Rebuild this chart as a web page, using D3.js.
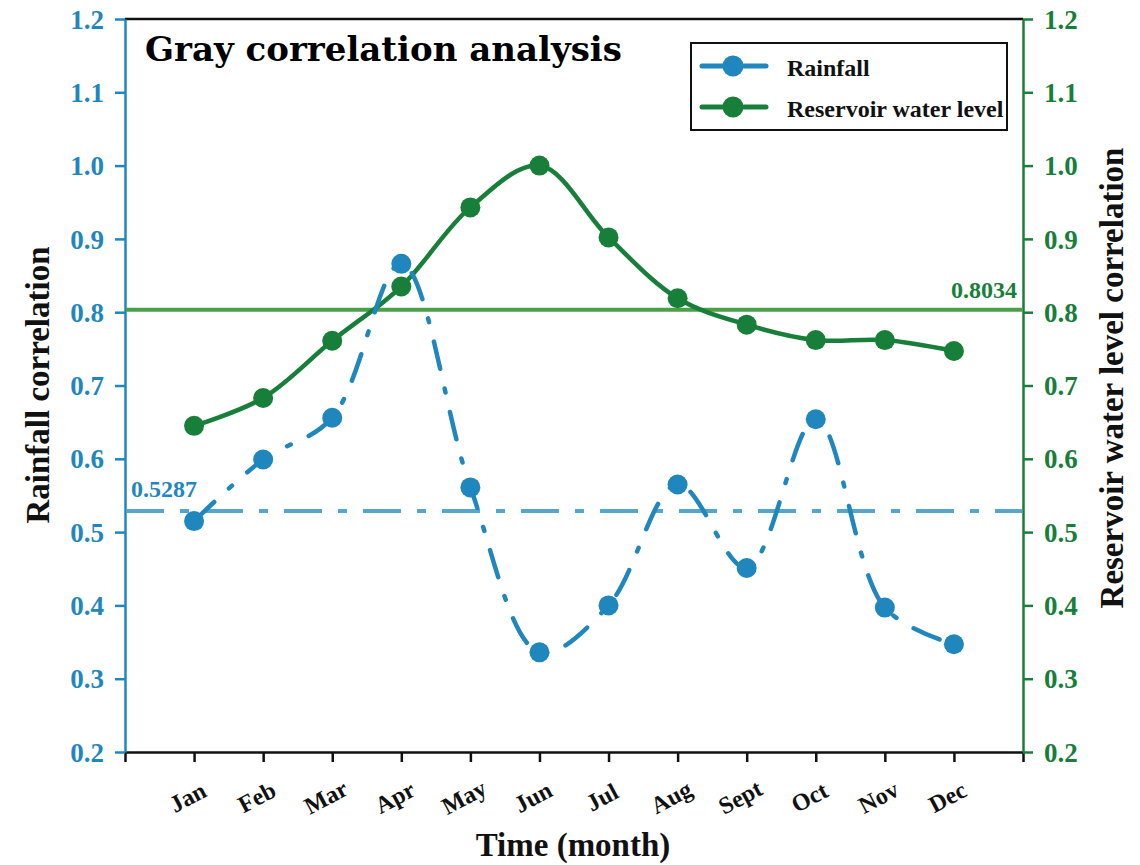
<!DOCTYPE html>
<html>
<head>
<meta charset="utf-8">
<script src="https://cdn.jsdelivr.net/npm/d3@7"></script>
<style>
  html, body { margin: 0; padding: 0; background: #fff; }
  svg { display: block; }
  text { font-family: "Liberation Serif", "Times New Roman", serif; font-weight: bold; }
</style>
</head>
<body>
<svg id="chart" width="1140" height="865"></svg>
<script>
// Month categories and tick labels
const months = ["Jan", "Feb", "Mar", "Apr", "May", "Jun", "Jul", "Aug", "Sept", "Oct", "Nov", "Dec"];
const yTicks = [0.2, 0.3, 0.4, 0.5, 0.6, 0.7, 0.8, 0.9, 1.0, 1.1, 1.2];

// Grey relational degree per month
const rainfall = [0.515, 0.599, 0.656, 0.866, 0.561, 0.336, 0.400, 0.565, 0.451, 0.654, 0.397, 0.347];
const reservoir = [0.645, 0.683, 0.761, 0.835, 0.943, 1.000, 0.902, 0.819, 0.783, 0.762, 0.762, 0.747];

// Mean correlation reference lines
const rainfallMean = 0.5287;
const reservoirMean = 0.8034;

const seriesNames = ["Rainfall", "Reservoir water level"];

const blue = "#1f87bd";
const blueLight = "#55a6cf";
const green = "#187f3a";
const greenLight = "#4b9f49";

const svg = d3.select("#chart");
const plotLeft = 125, plotRight = 1023, plotTop = 19, plotBottom = 752;

const x = d3.scaleLinear().domain([0, 13]).range([plotLeft, plotRight]);
const y = d3.scaleLinear().domain([0.2, 1.2]).range([plotBottom, plotTop]);

// Frame top line
svg.append("line")
  .attr("x1", plotLeft).attr("x2", plotRight).attr("y1", plotTop).attr("y2", plotTop)
  .attr("stroke", "#111").attr("stroke-width", 2.5);

// Bottom axis
const xAxis = svg.append("g")
  .attr("transform", `translate(0,${plotBottom})`)
  .call(d3.axisBottom(x).tickValues(d3.range(0, 14)).tickSize(10).tickSizeOuter(0)
    .tickFormat(d => (d >= 1 && d <= 12) ? months[d - 1] : ""));
xAxis.select(".domain").attr("stroke", "#111").attr("stroke-width", 2.5);
xAxis.selectAll(".tick line").attr("stroke", "#111").attr("stroke-width", 2.5);
xAxis.selectAll(".tick text")
  .attr("fill", "#111")
  .style("font-size", "24px")
  .attr("text-anchor", "middle")
  .attr("x", 0).attr("y", 0).attr("dy", "0.35em")
  .attr("transform", "translate(-7,45) rotate(-28)");

// Left axis
const yLeft = svg.append("g")
  .attr("transform", `translate(${plotLeft},0)`)
  .call(d3.axisLeft(y).tickValues(yTicks).tickSize(10).tickSizeOuter(0).tickFormat(d3.format(".1f")));
yLeft.select(".domain").attr("stroke", blue).attr("stroke-width", 2.5);
yLeft.selectAll(".tick line").attr("stroke", blue).attr("stroke-width", 2.5);
yLeft.selectAll(".tick text").attr("fill", blue).style("font-size", "27px").attr("x", -21).attr("dy", "0.34em");

// Right axis
const yRight = svg.append("g")
  .attr("transform", `translate(${plotRight},0)`)
  .call(d3.axisRight(y).tickValues(yTicks).tickSize(10).tickSizeOuter(0).tickFormat(d3.format(".1f")));
yRight.select(".domain").attr("stroke", green).attr("stroke-width", 2.5);
yRight.selectAll(".tick line").attr("stroke", green).attr("stroke-width", 2.5);
yRight.selectAll(".tick text").attr("fill", green).style("font-size", "27px").attr("x", 21).attr("dy", "0.34em");

// Mean reference lines
svg.append("line")
  .attr("x1", plotLeft + 1).attr("x2", plotRight - 1)
  .attr("y1", y(reservoirMean)).attr("y2", y(reservoirMean))
  .attr("stroke", greenLight).attr("stroke-width", 4);
svg.append("text")
  .attr("x", plotRight - 6).attr("y", y(reservoirMean) - 12)
  .attr("text-anchor", "end").attr("fill", green).style("font-size", "24px")
  .text(reservoirMean.toFixed(4));

svg.append("line")
  .attr("x1", plotLeft + 1).attr("x2", plotRight - 1)
  .attr("y1", y(rainfallMean)).attr("y2", y(rainfallMean))
  .attr("stroke", blueLight).attr("stroke-width", 4)
  .attr("stroke-dasharray", "38 16 9 16");
svg.append("text")
  .attr("x", 131).attr("y", y(rainfallMean) - 14)
  .attr("fill", blue).style("font-size", "24px")
  .text(rainfallMean.toFixed(4));

// Series curves
const line = d3.line()
  .x((d, i) => x(i + 1))
  .y(d => y(d))
  .curve(d3.curveCatmullRom.alpha(0.5));

svg.append("path")
  .datum(reservoir)
  .attr("d", line)
  .attr("fill", "none").attr("stroke", green).attr("stroke-width", 4.5);

svg.append("path")
  .datum(rainfall)
  .attr("d", line)
  .attr("fill", "none").attr("stroke", blue).attr("stroke-width", 4.5)
  .attr("stroke-linecap", "round")
  .attr("stroke-dasharray", "28 20 4 20");

svg.append("g").selectAll("circle")
  .data(reservoir).join("circle")
  .attr("cx", (d, i) => x(i + 1)).attr("cy", d => y(d)).attr("r", 10)
  .attr("fill", green);

svg.append("g").selectAll("circle")
  .data(rainfall).join("circle")
  .attr("cx", (d, i) => x(i + 1)).attr("cy", d => y(d)).attr("r", 10)
  .attr("fill", blue);

// Title
svg.append("text")
  .attr("x", 145).attr("y", 61)
  .attr("fill", "#000")
  .style("font-family", "'DejaVu Serif', serif")
  .style("font-size", "34px")
  .text("Gray correlation analysis");

// Legend
const legend = svg.append("g");
legend.append("rect")
  .attr("x", 691).attr("y", 43).attr("width", 316).attr("height", 87)
  .attr("fill", "#fff").attr("stroke", "#111").attr("stroke-width", 2);
const legendColors = [blue, green];
seriesNames.forEach((name, i) => {
  const ly = 66 + i * 41;
  const g = legend.append("g");
  [[702, 723], [744, 766]].forEach(([a, b]) => {
    g.append("line").attr("x1", a).attr("x2", b).attr("y1", ly).attr("y2", ly)
      .attr("stroke", legendColors[i]).attr("stroke-width", 5).attr("stroke-linecap", "round");
  });
  g.append("circle").attr("cx", 733).attr("cy", ly).attr("r", 10.5).attr("fill", legendColors[i]);
  g.append("text").attr("x", 787).attr("y", ly + 10)
    .attr("fill", "#111").style("font-size", "24px").text(name);
});

// Axis titles
svg.append("text")
  .attr("transform", "translate(49,385) rotate(-90)")
  .attr("text-anchor", "middle").attr("fill", "#111").style("font-size", "33px")
  .text("Rainfall correlation");
svg.append("text")
  .attr("transform", "translate(1123,378) rotate(-90)")
  .attr("text-anchor", "middle").attr("fill", "#111").style("font-size", "33px")
  .text("Reservoir water level correlation");
svg.append("text")
  .attr("x", 573).attr("y", 856)
  .attr("text-anchor", "middle").attr("fill", "#111").style("font-size", "33px")
  .text("Time (month)");
</script>
</body>
</html>
